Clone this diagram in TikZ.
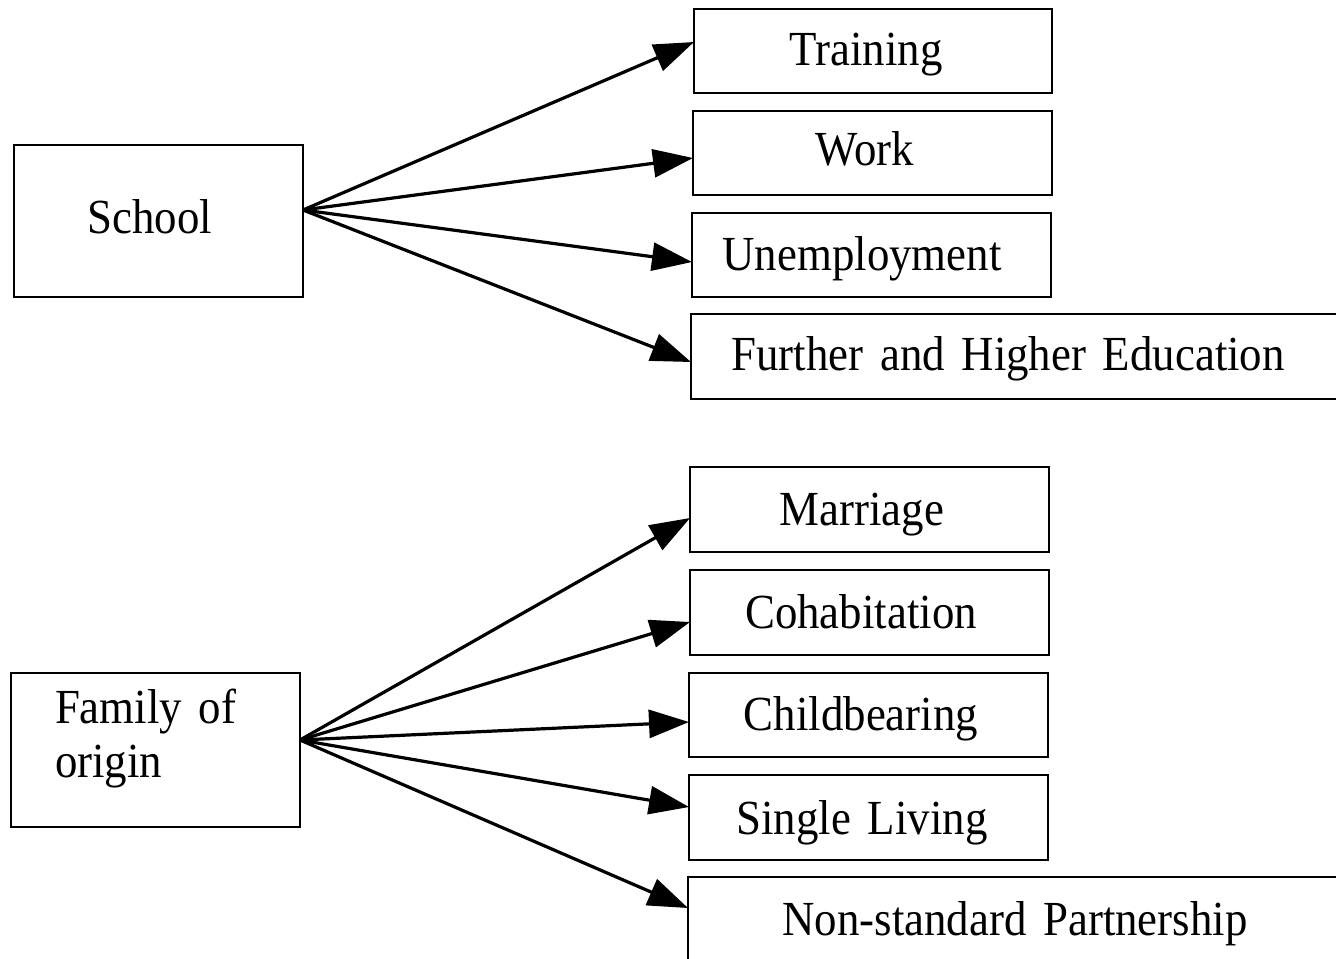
\documentclass[tikz,border=0pt]{standalone}
\usepackage{fontspec}
\setmainfont{Liberation Serif}[FakeStretch=0.915, WordSpace=1.5]
\usetikzlibrary{arrows.meta}
\tikzset{
  bx/.style={draw=black, line width=1.15pt, inner sep=0pt, outer sep=0pt, rectangle},
  lbl/.style={inner sep=0pt, outer sep=0pt, anchor=base, font=\fontsize{24.5pt}{27pt}\selectfont},
  arr/.style={line width=1.6pt, -{Triangle[length=20pt, width=14pt]}},
}
\begin{document}
\begin{tikzpicture}[x=0.5pt, y=-0.5pt]
\useasboundingbox (0,0) rectangle (1336,958);
% left boxes
\node[bx, minimum width=144.5pt, minimum height=76pt] (school) at (158.5,221) {};
\node[bx, minimum width=144.5pt, minimum height=77pt] (family) at (155.5,750) {};
% school outcomes
\node[bx, minimum width=179pt, minimum height=42pt] (train) at (873,51) {};
\node[bx, minimum width=179.5pt, minimum height=42pt] (work) at (872.5,153) {};
\node[bx, minimum width=179.5pt, minimum height=42pt] (unemp) at (871.5,255) {};
\node[bx, minimum width=327pt, minimum height=42.5pt] (fhe) at (1018,356.5) {};
% family outcomes
\node[bx, minimum width=179.5pt, minimum height=42.5pt] (marr) at (869.5,509.5) {};
\node[bx, minimum width=179.5pt, minimum height=42.5pt] (cohab) at (869.5,612.5) {};
\node[bx, minimum width=179.5pt, minimum height=42pt] (child) at (868.5,715) {};
\node[bx, minimum width=179.5pt, minimum height=42.5pt] (single) at (868.5,817.5) {};
\node[bx, minimum width=328.5pt, minimum height=46.5pt] (nonstd) at (1016.5,923.5) {};
% texts
\node[lbl] (tschool) at (150,233) {School};
\node[lbl, anchor=base west, align=left, font=\fontsize{24.5pt}{27pt}\selectfont] (tfamily) at (55,777) {Family of\\origin};
\node[lbl] (ttrain) at (866,65) {Training};
\node[lbl] (twork) at (865,165) {Work};
\node[lbl] (tunemp) at (862,270) {Unemployment};
\node[lbl] (tfhe) at (1008,370) {Further and Higher Education};
\node[lbl] (tmarr) at (862,525) {Marriage};
\node[lbl] (tcohab) at (861,628) {Cohabitation};
\node[lbl] (tchild) at (861,730) {Childbearing};
\node[lbl] (tsingle) at (862,834) {Single Living};
\node[lbl] (tnonstd) at (1015,935) {Non-standard Partnership};
% arrows
\draw[arr] ([yshift=5.5pt]school.east) -- ([yshift=4.5pt]train.west);
\draw[arr] ([yshift=5.5pt]school.east) -- ([yshift=-2.5pt]work.west);
\draw[arr] ([yshift=5.5pt]school.east) -- ([yshift=-3.5pt]unemp.west);
\draw[arr] ([yshift=5.5pt]school.east) -- ([yshift=-2.75pt]fhe.west);
\draw[arr] ([yshift=5pt]family.east) -- ([yshift=-4.25pt]marr.west);
\draw[arr] ([yshift=5pt]family.east) -- ([yshift=-4.75pt]cohab.west);
\draw[arr] ([yshift=5pt]family.east) -- ([yshift=-3.5pt]child.west);
\draw[arr] ([yshift=5pt]family.east) -- ([yshift=5.25pt]single.west);
\draw[arr] ([yshift=5pt]family.east) -- ([yshift=7.75pt]nonstd.west);
\end{tikzpicture}
\end{document}
